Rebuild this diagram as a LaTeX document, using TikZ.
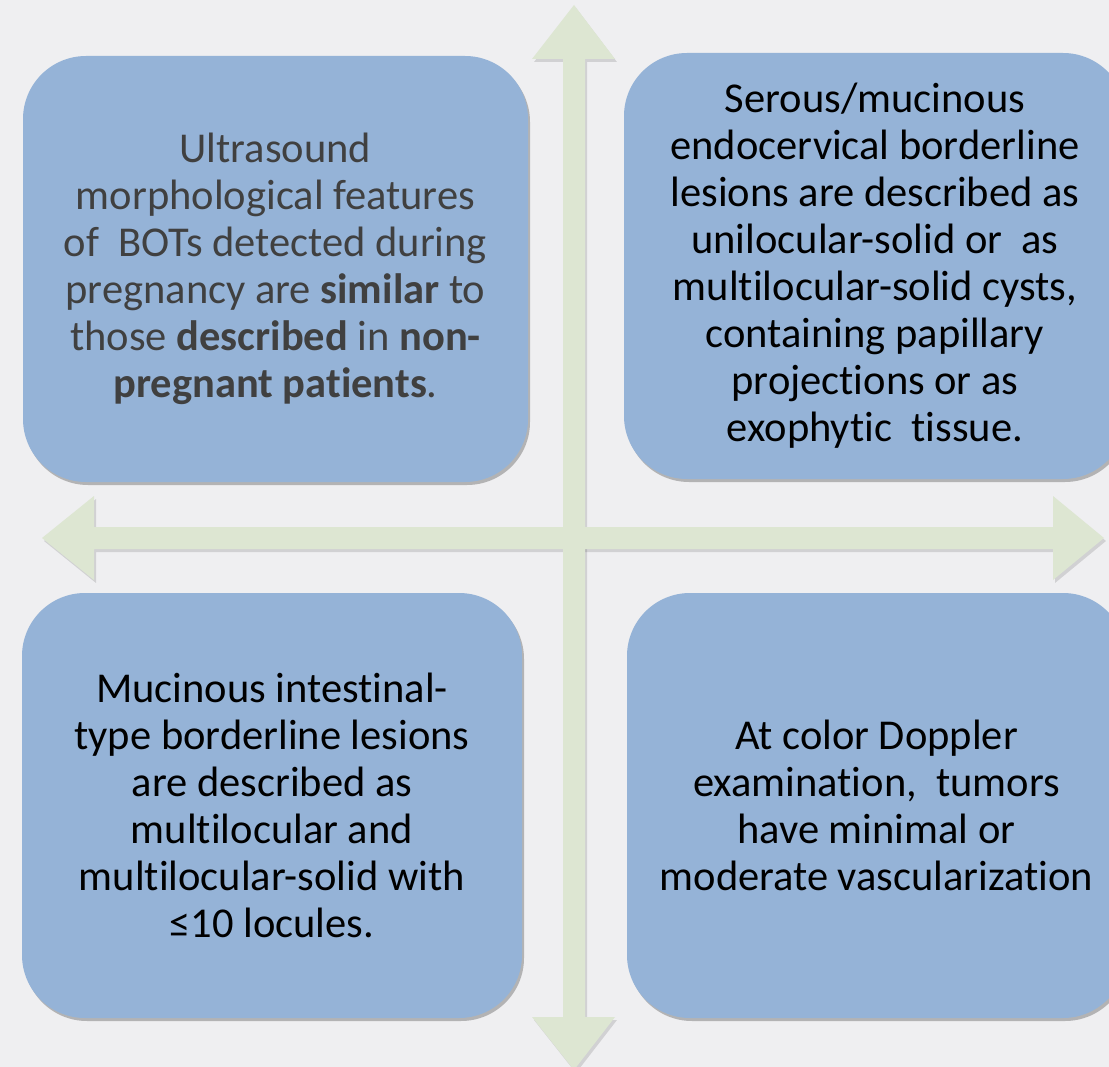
\documentclass[tikz,border=0pt]{standalone}
\usepackage{fontspec}
\setmainfont{Carlito}[Ligatures={NoCommon,NoRequired,NoContextual}, Contextuals=NoAlternate]
\usetikzlibrary{shadows}
\definecolor{bgcol}{RGB}{239,239,241}
\definecolor{boxblue}{RGB}{149,179,215}
\definecolor{arrowgreen}{RGB}{221,230,210}
\definecolor{darktext}{RGB}{64,64,64}
\begin{document}
\begin{tikzpicture}[x=1pt,y=-1pt,
  quad/.style={rectangle, fill=boxblue, rounded corners=63pt, align=center,
    font=\fontsize{42.5}{47}\selectfont, inner sep=0pt,
    drop shadow={shadow xshift=2pt, shadow yshift=-3pt, opacity=0.25, fill=black}},
  arrowshadow/.style={fill=black, opacity=0.12},
  arrowbody/.style={fill=arrowgreen}]
\fill[bgcol] (0,0) rectangle (1109,1067);
\useasboundingbox (0,0) rectangle (1109,1067);
% cross of arrows
\begin{scope}[shift={(2,3)}]
\fill[arrowshadow] (574,5) -- (615,59) -- (585,59) -- (585,1017) -- (615,1017) -- (574,1070) -- (532,1017) -- (563,1017) -- (563,59) -- (532,59) -- cycle;
\fill[arrowshadow] (42,538) -- (94,496) -- (94,527) -- (1053,527) -- (1053,496) -- (1104,538) -- (1053,580) -- (1053,549) -- (94,549) -- (94,580) -- cycle;
\end{scope}
\fill[arrowbody] (574,5) -- (615,59) -- (585,59) -- (585,1017) -- (615,1017) -- (574,1070) -- (532,1017) -- (563,1017) -- (563,59) -- (532,59) -- cycle;
\fill[arrowbody] (42,538) -- (94,496) -- (94,527) -- (1053,527) -- (1053,496) -- (1104,538) -- (1053,580) -- (1053,549) -- (94,549) -- (94,580) -- cycle;
% quadrant boxes
\node[quad, minimum width=505pt, minimum height=426pt, text=darktext] (q1) at (275.5,269)
  {Ultrasound\\ morphological features\\ of~~BOTs detected during\\ pregnancy are \textbf{similar} to\\ those \textbf{described} in \textbf{non-}\\ \textbf{pregnant patients}.};
\node[quad, minimum width=502pt, minimum height=426pt] (q2) at (875,266)
  {Serous/mucinous\\ endocervical borderline\\ lesions are described as\\ unilocular-solid or~~as\\ multilocular-solid cysts,\\ containing papillary\\ projections or as\\ exophytic~~tissue.};
\node[quad, minimum width=500pt, minimum height=425pt] (q3) at (272,805.5)
  {Mucinous intestinal-\\ type borderline lesions\\ are described as\\ multilocular and\\ multilocular-solid with\\ ≤10 locules.};
\node[quad, minimum width=499pt, minimum height=425pt] (q4) at (876.5,805.5)
  {At color Doppler\\ examination,~~tumors\\ have minimal or\\ moderate vascularization};
\end{tikzpicture}
\end{document}
